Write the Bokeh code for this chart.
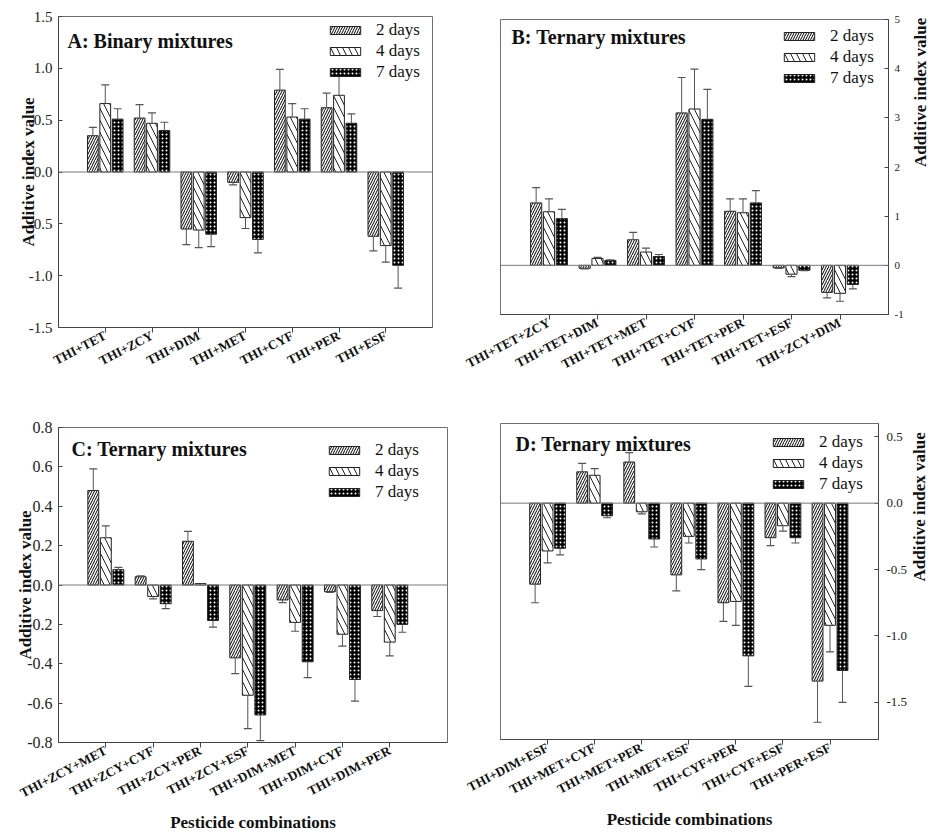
import numpy as np
from bokeh.plotting import figure
from bokeh.models import (FixedTicker, Span, Label, Legend, LegendItem, Range1d,
                          ColumnDataSource, NumeralTickFormatter)
from bokeh.layouts import column, row
from bokeh.embed import file_html
from bokeh.resources import INLINE

days = ["2 days", "4 days", "7 days"]

# ---- Panel A: binary mixtures
a_cats = ["THI+TET", "THI+ZCY", "THI+DIM", "THI+MET", "THI+CYF", "THI+PER", "THI+ESF"]
a_2d = [0.35, 0.52, -0.55, -0.10, 0.79, 0.62, -0.62]
a_4d = [0.66, 0.47, -0.56, -0.44, 0.53, 0.74, -0.71]
a_7d = [0.51, 0.40, -0.60, -0.65, 0.51, 0.47, -0.90]
a_2d_se = [0.08, 0.13, 0.15, 0.025, 0.20, 0.14, 0.14]
a_4d_se = [0.18, 0.10, 0.17, 0.105, 0.13, 0.19, 0.16]
a_7d_se = [0.10, 0.08, 0.12, 0.13, 0.10, 0.09, 0.22]

# ---- Panel B: ternary mixtures
b_cats = ["THI+TET+ZCY", "THI+TET+DIM", "THI+TET+MET", "THI+TET+CYF", "THI+TET+PER", "THI+TET+ESF", "THI+ZCY+DIM"]
b_2d = [1.27, -0.06, 0.52, 3.10, 1.10, -0.05, -0.55]
b_4d = [1.09, 0.14, 0.27, 3.18, 1.07, -0.18, -0.57]
b_7d = [0.95, 0.10, 0.18, 2.97, 1.27, -0.10, -0.39]
b_2d_se = [0.31, 0.01, 0.15, 0.72, 0.25, 0.01, 0.11]
b_4d_se = [0.26, 0.02, 0.08, 0.81, 0.28, 0.05, 0.16]
b_7d_se = [0.19, 0.01, 0.04, 0.61, 0.25, 0.01, 0.09]

# ---- Panel C: ternary mixtures
c_cats = ["THI+ZCY+MET", "THI+ZCY+CYF", "THI+ZCY+PER", "THI+ZCY+ESF", "THI+DIM+MET", "THI+DIM+CYF", "THI+DIM+PER"]
c_2d = [0.48, 0.042, 0.222, -0.37, -0.076, -0.034, -0.13]
c_4d = [0.24, -0.058, 0.007, -0.56, -0.19, -0.25, -0.29]
c_7d = [0.078, -0.095, -0.18, -0.66, -0.39, -0.48, -0.20]
c_2d_se = [0.11, 0.004, 0.05, 0.08, 0.014, 0.003, 0.03]
c_4d_se = [0.06, 0.012, 0.0, 0.17, 0.045, 0.06, 0.07]
c_7d_se = [0.012, 0.025, 0.034, 0.13, 0.08, 0.11, 0.04]

# ---- Panel D: ternary mixtures
d_cats = ["THI+DIM+ESF", "THI+MET+CYF", "THI+MET+PER", "THI+MET+ESF", "THI+CYF+PER", "THI+CYF+ESF", "THI+PER+ESF"]
d_2d = [-0.61, 0.236, 0.31, -0.54, -0.75, -0.26, -1.34]
d_4d = [-0.36, 0.21, -0.065, -0.25, -0.74, -0.17, -0.92]
d_7d = [-0.34, -0.095, -0.27, -0.42, -1.15, -0.26, -1.26]
d_2d_se = [0.14, 0.064, 0.07, 0.12, 0.14, 0.06, 0.31]
d_4d_se = [0.09, 0.05, 0.015, 0.05, 0.18, 0.04, 0.20]
d_7d_se = [0.05, 0.015, 0.06, 0.08, 0.23, 0.04, 0.24]

FONT = "Liberation Serif"
BAR_W = 0.23
OFFS = [-0.265, 0.0, 0.265]
STYLES = [
    dict(fill_color="white", hatch_pattern="/", hatch_scale=5, hatch_weight=1, hatch_color="black"),
    dict(fill_color="white", hatch_pattern="\\", hatch_scale=12, hatch_weight=1, hatch_color="#222222"),
    dict(fill_color="black", hatch_pattern=".", hatch_scale=4, hatch_weight=1.4, hatch_color="white"),
]
ERR_COLOR = "#555555"


def build(cats, vals, ses, yr, xend, frame, borders, side, yticks, yfmt, ytfs, ystand,
          ylab_stand, title, tpos, lpos, xlabel):
    fw, fh = frame
    bl, br, bt, bb = borders
    p = figure(frame_width=fw, frame_height=fh, x_range=Range1d(0, xend), y_range=Range1d(*yr),
               output_backend="svg", toolbar_location=None, y_axis_location=side,
               min_border_left=bl, min_border_right=br, min_border_top=bt,
               min_border_bottom=bb)
    p.grid.visible = False
    p.outline_line_color = "#707070"
    p.outline_line_width = 1
    p.background_fill_color = "white"
    p.border_fill_color = "white"
    xs = np.arange(1, len(cats) + 1)
    p.add_layout(Span(location=0, dimension="width", line_color="#7a7a7a", line_width=1))
    items = []
    for k in range(3):
        v = np.array(vals[k], dtype=float)
        s = np.array(ses[k], dtype=float)
        x = xs + OFFS[k]
        src = ColumnDataSource(dict(x=x, top=v))
        r = p.vbar(x="x", top="top", bottom=0, width=BAR_W, source=src,
                   line_color="#222222", line_width=1, **STYLES[k])
        items.append(LegendItem(label=days[k], renderers=[r]))
        m = s > 0
        end = v + np.sign(v) * s
        p.segment(x0=x[m], y0=v[m], x1=x[m], y1=end[m], line_color=ERR_COLOR, line_width=1)
        p.scatter(x=x[m], y=end[m], marker="dash", size=8, line_color=ERR_COLOR, line_width=1.2)

    xa = p.xaxis[0]
    xa.ticker = FixedTicker(ticks=[float(i) for i in xs])
    xa.major_label_overrides = {float(i): c for i, c in zip(xs, cats)}
    xa.major_label_orientation = 0.48
    xa.major_label_text_font = FONT
    xa.major_label_text_font_style = "bold"
    xa.major_label_text_font_size = "13px"
    xa.major_label_text_color = "#111111"
    xa.major_label_standoff = 2
    xa.major_tick_in = 0
    xa.major_tick_out = 5
    xa.minor_tick_in = 0
    xa.minor_tick_out = 0
    xa.axis_line_color = "#444444"
    xa.major_tick_line_color = "#444444"
    if xlabel:
        xa.axis_label = xlabel
        xa.axis_label_text_font = FONT
        xa.axis_label_text_font_style = "bold"
        xa.axis_label_text_font_size = "17px"
        xa.axis_label_text_color = "#111111"
        xa.axis_label_standoff = 3

    ya = p.yaxis[0]
    ya.ticker = FixedTicker(ticks=yticks)
    ya.formatter = NumeralTickFormatter(format=yfmt)
    ya.major_label_text_font = FONT
    ya.major_label_text_font_size = ytfs
    ya.major_label_text_color = "#222222"
    ya.major_tick_in = 4
    ya.major_tick_out = 0
    ya.minor_tick_in = 0
    ya.minor_tick_out = 0
    ya.major_label_standoff = ystand
    ya.axis_line_color = "#444444"
    ya.major_tick_line_color = "#444444"
    ya.axis_label = "Additive index value"
    ya.axis_label_text_font = FONT
    ya.axis_label_text_font_style = "bold"
    ya.axis_label_text_font_size = "17px"
    ya.axis_label_text_color = "#111111"
    ya.axis_label_standoff = ylab_stand
    if side == "right" and "axis_label_orientation" in ya.properties():
        ya.axis_label_orientation = float(np.pi / 2)

    p.add_layout(Label(x=tpos[0], y=fh - tpos[1], x_units="screen", y_units="screen",
                       text=title, text_align="left", text_baseline="middle",
                       text_font=FONT, text_font_style="bold", text_font_size="20px",
                       text_color="#111111"))

    row_h = 21
    leg = Legend(items=items, location=(lpos[0], fh - (lpos[1] - row_h / 2) - 3 * row_h),
                 glyph_width=38, glyph_height=10, label_height=row_h, label_standoff=12,
                 spacing=0, padding=0, margin=0, border_line_color=None,
                 background_fill_alpha=0, label_text_font=FONT, label_text_font_size="17px",
                 label_text_color="#111111")
    p.add_layout(leg)
    return p


pA = build(a_cats, [a_2d, a_4d, a_7d], [a_2d_se, a_4d_se, a_7d_se], (-1.5, 1.5), 8,
           (374, 311), (56, 32, 16, 93), "left", [-1.5, -1.0, -0.5, 0.0, 0.5, 1.0, 1.5],
           "0.0", "15px", 6, -12, "A: Binary mixtures", (9, 24), (268, 14), None)
pB = build(b_cats, [b_2d, b_4d, b_7d], [b_2d_se, b_4d_se, b_7d_se], (-1, 5), 8,
           (388, 295), (35, 40, 19, 106), "right", [-1, 0, 1, 2, 3, 4, 5],
           "0", "11px", 6, 14, "B: Ternary mixtures", (11, 17), (280, 17), None)
pC = build(c_cats, [c_2d, c_4d, c_7d], [c_2d_se, c_4d_se, c_7d_se], (-0.8, 0.8), 8.22,
           (389, 315), (58, 15, 7, 88), "left",
           [-0.8, -0.6, -0.4, -0.2, 0.0, 0.2, 0.4, 0.6, 0.8],
           "0.0", "16px", 6, -11, "C: Ternary mixtures", (13, 21), (267, 23),
           "Pesticide combinations")
pD = build(d_cats, [d_2d, d_4d, d_7d], [d_2d_se, d_4d_se, d_7d_se], (-1.78, 0.6), 8.03,
           (378, 316), (38, 47, 3, 91), "right", [-1.5, -1.0, -0.5, 0.0, 0.5],
           "0.0", "13px", 8, 9, "D: Ternary mixtures", (15, 20), (269, 19),
           "Pesticide combinations")

layout = row(column(pA, pC), column(pB, pD))
open("out.html", "w").write(file_html(layout, INLINE))
